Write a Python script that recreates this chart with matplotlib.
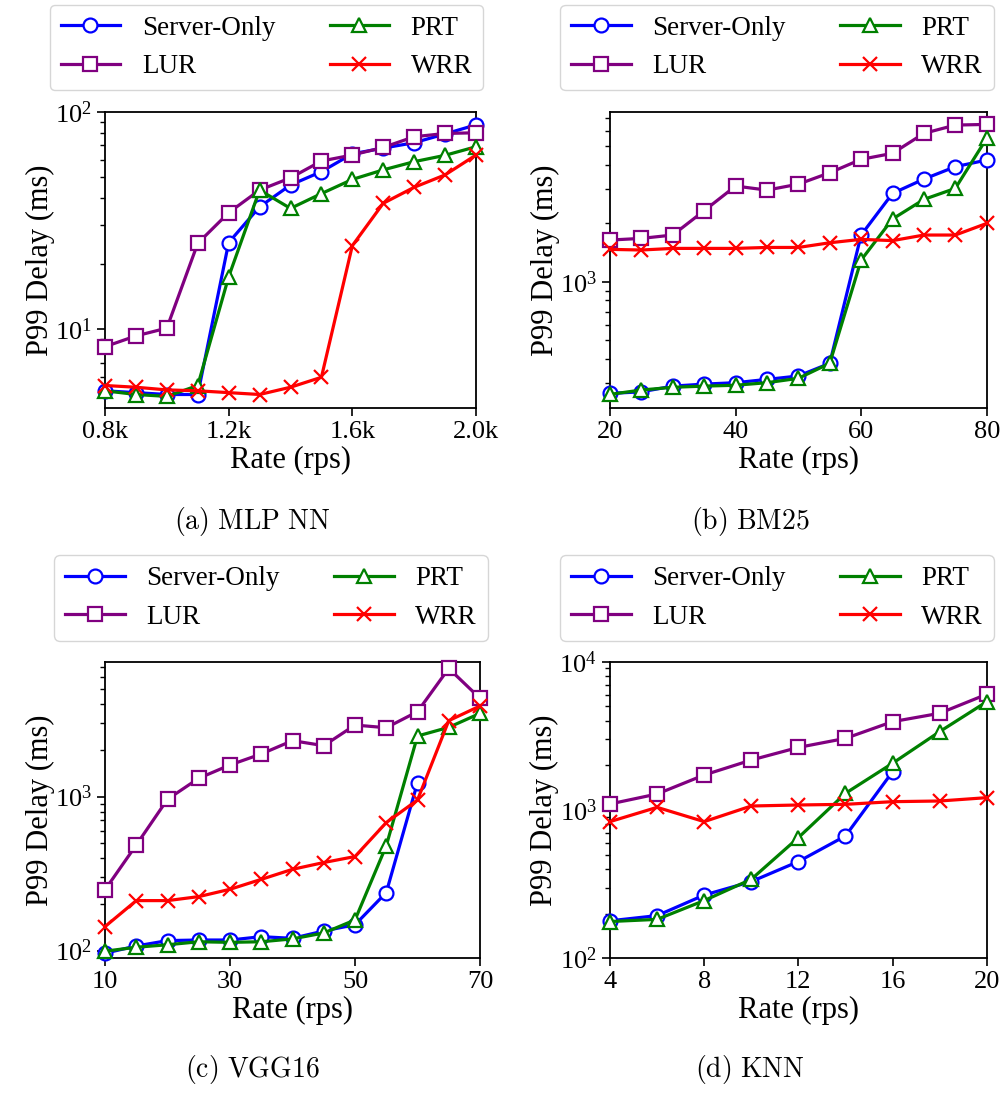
import numpy as np
import matplotlib
matplotlib.use("Agg")
import matplotlib.pyplot as plt
from matplotlib.ticker import FixedLocator, FixedFormatter, NullFormatter, LogLocator

plt.rcParams['font.family'] = ['Liberation Serif', 'DejaVu Serif']
plt.rcParams['mathtext.fontset'] = 'stix'

# ---- data (P99 delay in ms) ----
# (a) MLP NN
rate_a = [800, 900, 1000, 1100, 1200, 1300, 1400, 1500, 1600, 1700, 1800, 1900, 2000]
srv_a = [5.2, 5.1, 5.0, 5.0, 25.0, 36.5, 46, 53, 64, 68, 72, 79, 87]
lur_a = [8.3, 9.3, 10.1, 24.8, 34.3, 43.6, 49.6, 59.3, 63.2, 68.5, 76.7, 79.4, 80]
prt_a = [5.2, 5.0, 4.9, 5.5, 17.4, 43.6, 35.9, 42, 48.8, 54, 58.9, 63, 69]
wrr_a = [5.5, 5.4, 5.25, 5.2, 5.1, 5.0, 5.4, 6.0, 24.2, 37.9, 44.9, 51.2, 63.2]

# (b) BM25
rate_b = [20, 25, 30, 35, 40, 45, 50, 55, 60, 65, 70, 75, 80]
srv_b = [265, 270, 289, 296, 301, 313, 326, 379, 1742, 2858, 3388, 3926, 4250]
lur_b = [1641, 1674, 1742, 2327, 3119, 2972, 3190, 3653, 4285, 4602, 5836, 6440, 6490]
prt_b = [262, 276, 285, 289, 292, 301, 317, 379, 1294, 2108, 2661, 3034, 5500]
wrr_b = [1469, 1458, 1486, 1486, 1486, 1503, 1503, 1589, 1655, 1630, 1742, 1742, 2000]

# (c) VGG16
rate_c = [10, 15, 20, 25, 30, 35, 40, 45, 50, 55, 60, 65, 70]
srv_c = [96, 107, 116, 117, 117, 123, 120, 134, 147, 238, 1233]
lur_c = [248, 485, 961, 1316, 1606, 1893, 2311, 2143, 2918, 2804, 3565, 6810, 4353]
prt_c = [99, 105, 109, 114, 113, 114, 119, 130, 158, 479, 2477, 2820, 3475]
wrr_c = [143, 211, 211, 224, 250, 290, 337, 373, 408, 678, 951, 3117, 3882]

# (d) KNN
rate_d = [4, 6, 8, 10, 12, 14, 16, 18, 20]
srv_d = [179, 194, 267, 329, 449, 668, 1811]
lur_d = [1098, 1282, 1722, 2172, 2642, 3040, 3941, 4488, 6030]
prt_d = [177, 183, 245, 341, 651, 1295, 2065, 3375, 5370]
wrr_d = [835, 1042, 835, 1064, 1081, 1092, 1138, 1150, 1211]

names = ['Server-Only', 'LUR', 'PRT', 'WRR']
colors = ['#0000ff', '#800080', '#008000', '#ff0000']
markers = ['o', 's', '^', 'x']

fig = plt.figure(figsize=(10.01, 10.93), dpi=100)

W, H = 1001, 1093
def pos(l, r, t, b):
    return [l / W, 1 - b / H, (r - l) / W, (b - t) / H]

panels = [
    dict(rect=pos(105, 476, 111.7, 408.3), x=rate_a, ys=[srv_a, lur_a, prt_a, wrr_a],
         xlim=(800, 2000), ylim=(4.32, 100), xt=[800, 1200, 1600, 2000],
         xtl=['0.8k', '1.2k', '1.6k', '2.0k'], leg=(266.5, 47.5),
         cap=r'$\mathrm{(a)\ MLP\ NN}$', capxy=(252, 522)),
    dict(rect=pos(610, 986.7, 111.7, 408.3), x=rate_b, ys=[srv_b, lur_b, prt_b, wrr_b],
         xlim=(20, 80), ylim=(222, 7550), xt=[20, 40, 60, 80],
         xtl=['20', '40', '60', '80'], leg=(777, 47.5),
         cap=r'$\mathrm{(b)\ BM25}$', capxy=(750, 522)),
    dict(rect=pos(105, 480, 661.7, 958.3), x=rate_c, ys=[srv_c, lur_c, prt_c, wrr_c],
         xlim=(10, 70), ylim=(89, 7530), xt=[10, 30, 50, 70],
         xtl=['10', '30', '50', '70'], leg=(271, 598),
         cap=r'$\mathrm{(c)\ VGG16}$', capxy=(252, 1070)),
    dict(rect=pos(610, 986.7, 661.7, 958.3), x=rate_d, ys=[srv_d, lur_d, prt_d, wrr_d],
         xlim=(4, 20), ylim=(100, 10000), xt=[4, 8, 12, 16, 20],
         xtl=['4', '8', '12', '16', '20'], leg=(777, 598),
         cap=r'$\mathrm{(d)\ KNN}$', capxy=(750, 1070)),
]

for p in panels:
    ax = fig.add_axes(p['rect'])
    for name, y, c, m in zip(names, p['ys'], colors, markers):
        ax.plot(p['x'][:len(y)], y, color=c, marker=m, label=name, lw=2.3,
                markersize=10, markeredgewidth=1.6,
                markerfacecolor='white' if m != 'x' else c, clip_on=False, zorder=3)
    ax.set_yscale('log')
    ax.set_xlim(*p['xlim'])
    ax.set_ylim(*p['ylim'])
    ax.xaxis.set_major_locator(FixedLocator(p['xt']))
    ax.xaxis.set_major_formatter(FixedFormatter(p['xtl']))
    ax.yaxis.set_major_locator(LogLocator(base=10))
    ax.yaxis.set_minor_locator(LogLocator(base=10, subs=np.arange(2, 10)))
    ax.yaxis.set_minor_formatter(NullFormatter())
    ax.tick_params(axis='both', which='major', labelsize=19, length=6, width=1.2)
    ax.tick_params(axis='y', which='minor', length=3.5, width=1.0)
    for s in ax.spines.values():
        s.set_linewidth(1.3)
    ax.set_xlabel('Rate (rps)', fontsize=22, labelpad=2)
    ax.set_ylabel('P99 Delay (ms)', fontsize=22, labelpad=0)
    lx, ly = p['leg']
    ax.legend(loc='center', bbox_to_anchor=(lx / W, 1 - ly / H), bbox_transform=fig.transFigure,
              ncol=2, fontsize=19.5, handlelength=2.2, columnspacing=2.0,
              labelspacing=0.5, borderpad=0.4, handletextpad=0.8)
    cx, cy = p['capxy']
    fig.text(cx / W, 1 - cy / H, p['cap'], ha='center', va='center', fontsize=20,
             math_fontfamily='cm')

fig.savefig('out.png', dpi=100)
